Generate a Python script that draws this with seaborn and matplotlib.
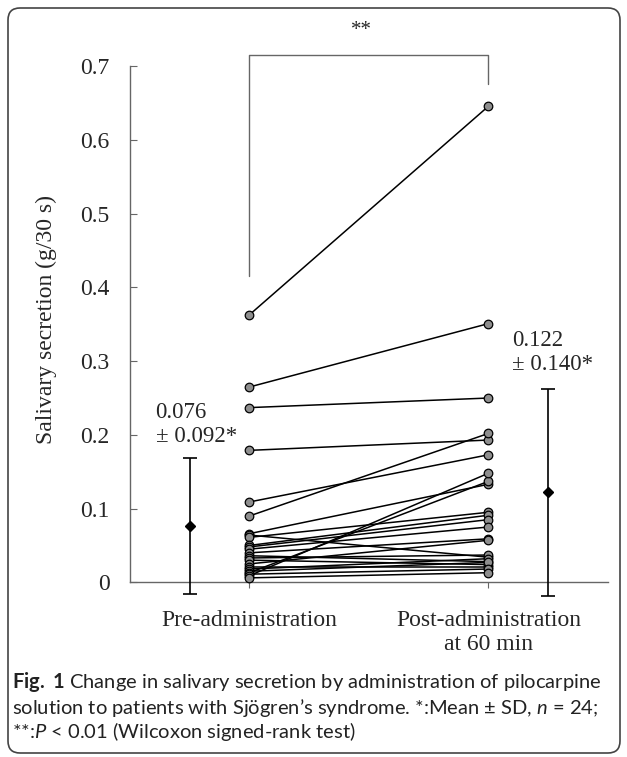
import seaborn as sns
import matplotlib.pyplot as plt
import pandas as pd
from matplotlib.patches import FancyBboxPatch
from matplotlib.transforms import IdentityTransform

# salivary secretion (g/30 s), one pair per patient, n = 24
pre = [0.363, 0.265, 0.237, 0.179, 0.109, 0.090, 0.066, 0.064, 0.061, 0.050, 0.048, 0.045,
       0.040, 0.036, 0.033, 0.030, 0.025, 0.021, 0.018, 0.015, 0.013, 0.011, 0.009, 0.006]
post = [0.646, 0.351, 0.250, 0.193, 0.173, 0.202, 0.133, 0.034, 0.095, 0.091, 0.085, 0.075,
        0.059, 0.028, 0.037, 0.024, 0.057, 0.021, 0.032, 0.027, 0.137, 0.018, 0.148, 0.013]
time_labels = ['Pre-administration', 'Post-administration\nat 60 min']
means = [0.076, 0.122]
sds = [0.092, 0.140]
mean_texts = ['0.076\n± 0.092*', '0.122\n± 0.140*']
yticks = [0, 0.1, 0.2, 0.3, 0.4, 0.5, 0.6, 0.7]
ytick_labels = ['0', '0.1', '0.2', '0.3', '0.4', '0.5', '0.6', '0.7']

sns.set_style('ticks')
plt.rcParams['font.family'] = ['Liberation Serif', 'DejaVu Serif']
plt.rcParams['mathtext.fontset'] = 'custom'
plt.rcParams['mathtext.rm'] = 'Lato'
plt.rcParams['mathtext.it'] = 'Lato:italic'
plt.rcParams['mathtext.bf'] = 'Lato:bold'

n = len(pre)
df = pd.DataFrame({'subject': list(range(n)) * 2,
                   'time': [0] * n + [1] * n,
                   'value': pre + post})

fig = plt.figure(figsize=(6.27, 7.57), dpi=100)
ax = fig.add_axes([0.2073, 0.2016, 0.7624, 0.7594])

sns.lineplot(data=df, x='time', y='value', units='subject', estimator=None,
             color='black', lw=1.1, ax=ax, legend=False)
sns.scatterplot(data=df, x='time', y='value', color='#8e8e8e', edgecolor='black',
                linewidth=0.9, s=38, ax=ax, zorder=3, legend=False)

# mean +- SD beside each group
ax.errorbar([-0.25, 1.25], means, yerr=sds, fmt='D', color='black', ms=5.5,
            capsize=5, elinewidth=1.2, capthick=1.2, zorder=4)
ax.text(-0.393, 0.214, mean_texts[0], fontsize=16.5, ha='left', va='center', linespacing=1.2)
ax.text(1.10, 0.312, mean_texts[1], fontsize=16.5, ha='left', va='center', linespacing=1.2)

# significance bracket
ax.plot([0, 0, 1, 1], [0.415, 0.716, 0.716, 0.676], color='#666666', lw=1, clip_on=False)
ax.text(0.47, 0.748, '**', fontsize=15, ha='center', va='center', clip_on=False)

ax.set_xlim(-0.5, 1.5)
ax.set_ylim(-0.03, 0.75)
ax.set_yticks(yticks)
ax.set_yticklabels(ytick_labels)
ax.set_xticks([0, 1])
ax.set_xticklabels(time_labels, linespacing=1.33)
ax.set_xlabel('')
ax.set_ylabel('Salivary secretion (g/30 s)', fontsize=17)
ax.yaxis.set_label_coords(-0.153, 0.495)

sns.despine(ax=ax)
ax.spines['left'].set_bounds(0, 0.7)
ax.spines['bottom'].set_position(('data', 0))
ax.spines['bottom'].set_bounds(-0.5, 1.5)
for s in ['left', 'bottom']:
    ax.spines[s].set_color('#666666')
    ax.spines[s].set_linewidth(1)
ax.tick_params(axis='y', direction='in', length=5, pad=14.5, labelsize=17, color='#666666')
ax.tick_params(axis='x', direction='out', length=4, pad=16, labelsize=17, color='#666666')

# caption
cap_kw = dict(fontsize=14.5, family=['Lato', 'DejaVu Sans'], color='#222222', va='baseline')
fig.text(12 / 627, 1 - 688 / 757,
         r'$\bf{Fig.\ 1}$ Change in salivary secretion by administration of pilocarpine', **cap_kw)
fig.text(12 / 627, 1 - 714 / 757,
         r'solution to patients with Sjögren’s syndrome. *:Mean ± SD, $\it{n}$ = 24;', **cap_kw)
fig.text(12 / 627, 1 - 738 / 757,
         r'**:$\it{P}$ < 0.01 (Wilcoxon signed-rank test)', **cap_kw)

# rounded frame round the whole figure
frame = FancyBboxPatch((8, 4), 612, 745, boxstyle='round,pad=0,rounding_size=12',
                       transform=IdentityTransform(), fill=False, edgecolor='#444444', lw=1.2)
fig.add_artist(frame)

fig.savefig('out.png', dpi=100)
